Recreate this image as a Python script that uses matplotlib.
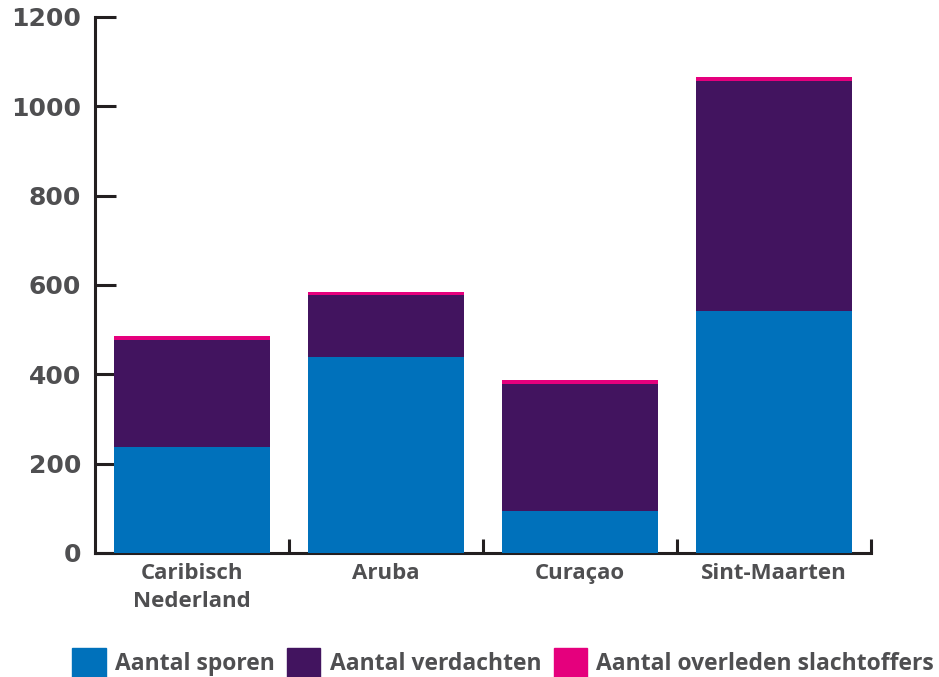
import matplotlib.pyplot as plt
from matplotlib.patches import Rectangle

eilanden = ['Caribisch\nNederland', 'Aruba', 'Curaçao', 'Sint-Maarten']
sporen = [237, 438, 94, 541]
verdachten = [240, 139, 284, 515]
overleden = [9, 7, 9, 9]

blauw = '#0071bb'
paars = '#42145f'
roze = '#e5007d'
grijs = '#4f4f51'
lijn = '#231f20'

fig = plt.figure(figsize=(9.39, 6.77), dpi=100)
ax = fig.add_axes([0.1012, 0.1832, 0.8264, 0.7917])

x = range(len(eilanden))
onder2 = [a + b for a, b in zip(sporen, verdachten)]
ax.bar(x, sporen, width=0.8, color=blauw, zorder=3)
ax.bar(x, verdachten, width=0.8, bottom=sporen, color=paars, zorder=3)
ax.bar(x, overleden, width=0.8, bottom=onder2, color=roze, zorder=3)

ax.set_xlim(-0.5, 3.5)
ax.set_ylim(0, 1200)

# assen
for kant in ['top', 'right']:
    ax.spines[kant].set_visible(False)
for kant in ['left', 'bottom']:
    ax.spines[kant].set_linewidth(2.2)
    ax.spines[kant].set_color(lijn)

ax.set_yticks(range(0, 1201, 200))
ax.tick_params(axis='y', direction='in', length=15, width=2.2, color=lijn,
               pad=10, labelsize=18, labelcolor=grijs)
for t in ax.get_yticklabels():
    t.set_fontweight('bold')

# streepjes tussen de groepen, namen in het midden
ax.set_xticks([0.5, 1.5, 2.5, 3.5])
ax.set_xticklabels([])
ax.tick_params(axis='x', which='major', direction='in', length=10, width=2.2, color=lijn)
ax.set_xticks(list(x), minor=True)
ax.set_xticklabels(eilanden, minor=True, fontsize=16, fontweight='bold',
                   color=grijs, family='Open Sans', linespacing=1.45)
ax.tick_params(axis='x', which='minor', length=0, pad=7)

handles = [Rectangle((0, 0), 1, 1, color=c) for c in (blauw, paars, roze)]
namen = ['Aantal sporen', 'Aantal verdachten', 'Aantal overleden slachtoffers']
leg = fig.legend(handles, namen, loc='lower left', bbox_to_anchor=(0.077, 0.0),
                 ncol=3, frameon=False, borderpad=0, borderaxespad=0,
                 handlelength=1.45, handleheight=1.6, handletextpad=0.4,
                 columnspacing=0.55,
                 prop={'family': 'Open Sans', 'weight': 'bold', 'size': 16.5})
for t in leg.get_texts():
    t.set_color(grijs)

fig.savefig('out.png', dpi=100)
